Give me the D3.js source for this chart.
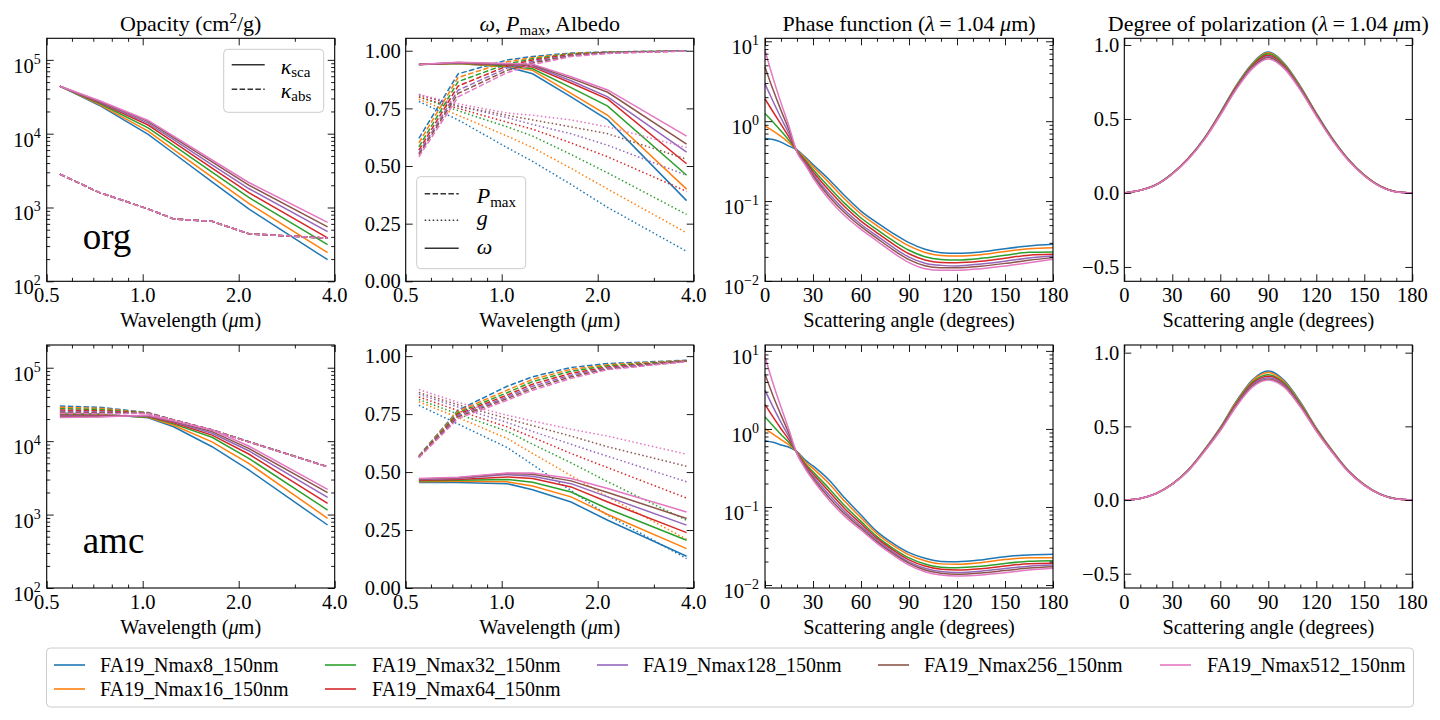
<!DOCTYPE html>
<html>
<head>
<meta charset="utf-8">
<script src="https://cdn.jsdelivr.net/npm/d3@7"></script>
<style>
  body { margin: 0; background: #fff; }
</style>
</head>
<body>
<svg id="chart"></svg>
<script>
const names = ["FA19_Nmax8_150nm", "FA19_Nmax16_150nm", "FA19_Nmax32_150nm", "FA19_Nmax64_150nm",
               "FA19_Nmax128_150nm", "FA19_Nmax256_150nm", "FA19_Nmax512_150nm"];
const colors = ["#1f77b4", "#ff7f0e", "#2ca02c", "#d62728", "#9467bd", "#8c564b", "#e377c2"];

const wavelengths = [0.55, 0.73, 1.04, 1.25, 1.65, 2.15, 3.8];
const phaseAngles = [0, 5, 10, 15, 20, 25, 30, 40, 50, 60, 70, 80, 90, 100, 110, 120, 135, 150, 165, 180];
const polAngles = [0, 10, 20, 30, 40, 50, 60, 70, 80, 90, 100, 110, 120, 130, 140, 150, 160, 170, 180];

// org: opacities (cm2/g)
const orgKsca = [
  [44000, 24300, 9800, 5430, 2230, 955, 196],
  [44000, 25000, 10800, 6100, 2580, 1135, 244],
  [44000, 25800, 12000, 6920, 3010, 1368, 313],
  [44000, 26500, 13100, 7680, 3420, 1590, 388],
  [44000, 27000, 13900, 8300, 3790, 1808, 472],
  [44000, 27600, 14700, 8870, 4140, 2010, 546],
  [44000, 28100, 15100, 9250, 4400, 2180, 630]
];
const orgKabs = [2830, 1600, 955, 700, 650, 440, 384];

const orgPmax = [
  [0.62, 0.90, 0.96, 0.975, 0.99, 0.995, 1.0],
  [0.60, 0.884, 0.952, 0.97, 0.988, 0.994, 1.0],
  [0.583, 0.866, 0.943, 0.965, 0.986, 0.993, 1.0],
  [0.569, 0.847, 0.934, 0.96, 0.983, 0.992, 0.999],
  [0.557, 0.829, 0.925, 0.953, 0.98, 0.991, 0.999],
  [0.55, 0.815, 0.915, 0.947, 0.978, 0.99, 0.999],
  [0.54, 0.80, 0.905, 0.94, 0.975, 0.988, 0.999]
];
const orgG = [
  [0.78, 0.70, 0.58, 0.52, 0.42, 0.32, 0.13],
  [0.79, 0.72, 0.63, 0.58, 0.49, 0.40, 0.21],
  [0.80, 0.74, 0.67, 0.63, 0.55, 0.47, 0.29],
  [0.80, 0.75, 0.69, 0.66, 0.60, 0.54, 0.39],
  [0.81, 0.76, 0.71, 0.68, 0.64, 0.59, 0.46],
  [0.81, 0.76, 0.72, 0.70, 0.67, 0.64, 0.53],
  [0.81, 0.77, 0.73, 0.72, 0.70, 0.67, 0.58]
];
const orgW = [
  [0.94, 0.945, 0.93, 0.90, 0.80, 0.70, 0.35],
  [0.94, 0.945, 0.932, 0.915, 0.815, 0.72, 0.40],
  [0.94, 0.946, 0.935, 0.922, 0.84, 0.76, 0.46],
  [0.94, 0.947, 0.938, 0.93, 0.86, 0.79, 0.51],
  [0.94, 0.948, 0.94, 0.935, 0.87, 0.80, 0.56],
  [0.94, 0.949, 0.942, 0.938, 0.88, 0.82, 0.595],
  [0.94, 0.95, 0.945, 0.942, 0.887, 0.83, 0.63]
];

// org: log10 of phase function at 1.04 um
const orgPhaseLog = [
  [-0.217, -0.229, -0.2625, -0.3125, -0.36, -0.446, -0.542, -0.729, -0.9375, -1.125, -1.271, -1.404, -1.521, -1.604, -1.646, -1.654, -1.6375, -1.596, -1.5625, -1.542],
  [-0.0625, -0.12, -0.19, -0.27, -0.365, -0.461, -0.569, -0.769, -0.9775, -1.162, -1.308, -1.443, -1.561, -1.643, -1.681, -1.6875, -1.671, -1.631, -1.596, -1.583],
  [0.096, -0.009, -0.122, -0.24, -0.37, -0.4825, -0.605, -0.824, -1.0325, -1.212, -1.358, -1.496, -1.616, -1.696, -1.73, -1.7375, -1.717, -1.678, -1.642, -1.6375],
  [0.279, 0.118, -0.041, -0.2, -0.375, -0.499, -0.633, -0.866, -1.075, -1.251, -1.397, -1.537, -1.659, -1.737, -1.768, -1.771, -1.752, -1.715, -1.677, -1.667],
  [0.467, 0.249, 0.04, -0.157, -0.38, -0.515, -0.662, -0.909, -1.1175, -1.29, -1.436, -1.578, -1.701, -1.778, -1.805, -1.8125, -1.787, -1.752, -1.712, -1.687],
  [0.679, 0.396, 0.135, -0.11, -0.385, -0.528, -0.683, -0.9415, -1.15, -1.32, -1.466, -1.61, -1.734, -1.81, -1.834, -1.835, -1.815, -1.78, -1.74, -1.708],
  [0.8875, 0.542, 0.229, -0.0625, -0.39, -0.542, -0.708, -0.979, -1.1875, -1.354, -1.5, -1.646, -1.771, -1.846, -1.867, -1.867, -1.846, -1.8125, -1.771, -1.729]
];
const orgPol = [
  [0, 0.018, 0.057, 0.132, 0.235, 0.37, 0.543, 0.727, 0.875, 0.952, 0.875, 0.722, 0.54, 0.37, 0.228, 0.121, 0.046, 0.008, 0],
  [0, 0.018, 0.057, 0.131, 0.234, 0.369, 0.54, 0.723, 0.87, 0.947, 0.87, 0.718, 0.537, 0.368, 0.227, 0.12, 0.046, 0.008, 0],
  [0, 0.018, 0.056, 0.131, 0.233, 0.367, 0.537, 0.719, 0.865, 0.94, 0.864, 0.713, 0.534, 0.366, 0.226, 0.12, 0.045, 0.008, 0],
  [0, 0.018, 0.056, 0.130, 0.232, 0.365, 0.534, 0.714, 0.858, 0.93, 0.857, 0.708, 0.531, 0.364, 0.225, 0.119, 0.045, 0.008, 0],
  [0, 0.018, 0.056, 0.129, 0.231, 0.363, 0.531, 0.71, 0.852, 0.922, 0.851, 0.704, 0.528, 0.362, 0.224, 0.118, 0.044, 0.007, 0],
  [0, 0.018, 0.055, 0.129, 0.23, 0.362, 0.528, 0.706, 0.847, 0.915, 0.846, 0.70, 0.525, 0.36, 0.222, 0.117, 0.044, 0.007, 0],
  [0, 0.018, 0.055, 0.128, 0.228, 0.36, 0.525, 0.70, 0.84, 0.905, 0.84, 0.695, 0.52, 0.356, 0.22, 0.116, 0.043, 0.007, 0]
];

// amc
const amcKsca = [
  [24000, 23500, 20800, 15700, 8400, 4050, 721],
  [23500, 23100, 21100, 16500, 9800, 4990, 889],
  [23000, 22700, 21400, 17200, 11300, 5840, 1153],
  [22500, 22300, 21700, 17800, 12100, 6680, 1422],
  [22000, 21900, 22000, 18300, 12800, 7410, 1718],
  [21500, 21600, 22300, 18700, 13500, 7980, 1985],
  [21000, 21300, 22600, 19000, 14200, 8590, 2209]
];
const amcKabs = [
  [30100, 29000, 24500, 19500, 14300, 9850, 4500],
  [28900, 28000, 24300, 19450, 14250, 9830, 4490],
  [27700, 27000, 24200, 19400, 14200, 9810, 4480],
  [26500, 26000, 24100, 19400, 14200, 9800, 4480],
  [25500, 25000, 24000, 19350, 14180, 9790, 4470],
  [24700, 24300, 23900, 19300, 14150, 9780, 4470],
  [23900, 23600, 23800, 19300, 14100, 9770, 4460]
];
const amcPmax = [
  [0.57, 0.767, 0.87, 0.911, 0.951, 0.968, 0.982],
  [0.568, 0.762, 0.853, 0.90, 0.943, 0.963, 0.981],
  [0.566, 0.756, 0.842, 0.89, 0.935, 0.958, 0.98],
  [0.565, 0.75, 0.832, 0.879, 0.926, 0.953, 0.979],
  [0.564, 0.744, 0.824, 0.87, 0.918, 0.949, 0.978],
  [0.563, 0.738, 0.817, 0.861, 0.911, 0.945, 0.977],
  [0.562, 0.731, 0.81, 0.853, 0.904, 0.942, 0.976]
];
const amcG = [
  [0.788, 0.707, 0.606, 0.532, 0.42, 0.314, 0.127],
  [0.803, 0.735, 0.645, 0.58, 0.485, 0.393, 0.21],
  [0.813, 0.75, 0.676, 0.62, 0.54, 0.458, 0.292],
  [0.824, 0.765, 0.695, 0.65, 0.58, 0.519, 0.388],
  [0.835, 0.78, 0.714, 0.675, 0.62, 0.568, 0.458],
  [0.843, 0.79, 0.731, 0.70, 0.655, 0.609, 0.525],
  [0.856, 0.80, 0.745, 0.72, 0.685, 0.655, 0.577]
];
const amcW = [
  [0.455, 0.455, 0.45, 0.424, 0.371, 0.292, 0.137],
  [0.458, 0.46, 0.458, 0.44, 0.393, 0.317, 0.17],
  [0.462, 0.465, 0.468, 0.456, 0.414, 0.342, 0.206],
  [0.465, 0.468, 0.479, 0.472, 0.436, 0.371, 0.239],
  [0.468, 0.472, 0.489, 0.482, 0.45, 0.393, 0.271],
  [0.47, 0.475, 0.494, 0.491, 0.462, 0.412, 0.30],
  [0.472, 0.478, 0.496, 0.496, 0.472, 0.429, 0.328]
];
const amcPhaseLog = [
  [-0.15, -0.171, -0.205, -0.235, -0.291, -0.397, -0.474, -0.654, -0.889, -1.103, -1.316, -1.466, -1.585, -1.658, -1.697, -1.701, -1.679, -1.637, -1.615, -1.607],
  [0.001, -0.065, -0.137, -0.204, -0.296, -0.416, -0.506, -0.7, -0.931, -1.138, -1.343, -1.493, -1.614, -1.689, -1.729, -1.735, -1.714, -1.674, -1.65, -1.65],
  [0.152, 0.041, -0.07, -0.173, -0.3, -0.442, -0.55, -0.762, -0.988, -1.184, -1.379, -1.529, -1.652, -1.73, -1.771, -1.778, -1.76, -1.723, -1.696, -1.688],
  [0.313, 0.154, 0.003, -0.14, -0.305, -0.459, -0.578, -0.802, -1.025, -1.214, -1.403, -1.552, -1.677, -1.757, -1.799, -1.808, -1.791, -1.756, -1.727, -1.722],
  [0.496, 0.283, 0.085, -0.102, -0.31, -0.476, -0.607, -0.843, -1.063, -1.245, -1.427, -1.576, -1.703, -1.785, -1.827, -1.838, -1.822, -1.789, -1.758, -1.744],
  [0.701, 0.426, 0.177, -0.06, -0.316, -0.49, -0.631, -0.877, -1.093, -1.27, -1.447, -1.596, -1.723, -1.807, -1.849, -1.863, -1.847, -1.815, -1.783, -1.765],
  [0.927, 0.585, 0.278, -0.013, -0.32, -0.504, -0.654, -0.91, -1.124, -1.295, -1.466, -1.615, -1.744, -1.829, -1.872, -1.885, -1.872, -1.842, -1.808, -1.786]
];
const amcPol = [
  [0, 0.011, 0.045, 0.109, 0.205, 0.34, 0.492, 0.67, 0.815, 0.876, 0.81, 0.665, 0.49, 0.336, 0.2, 0.105, 0.04, 0.008, 0],
  [0, 0.011, 0.045, 0.109, 0.204, 0.338, 0.489, 0.665, 0.808, 0.865, 0.803, 0.659, 0.486, 0.333, 0.199, 0.104, 0.04, 0.008, 0],
  [0, 0.011, 0.045, 0.108, 0.203, 0.336, 0.485, 0.658, 0.798, 0.85, 0.793, 0.652, 0.481, 0.33, 0.197, 0.103, 0.039, 0.008, 0],
  [0, 0.011, 0.045, 0.108, 0.202, 0.334, 0.481, 0.652, 0.79, 0.84, 0.786, 0.646, 0.477, 0.328, 0.196, 0.102, 0.039, 0.007, 0],
  [0, 0.011, 0.044, 0.107, 0.201, 0.332, 0.477, 0.646, 0.782, 0.83, 0.778, 0.641, 0.473, 0.326, 0.194, 0.101, 0.039, 0.007, 0],
  [0, 0.011, 0.044, 0.107, 0.2, 0.33, 0.474, 0.64, 0.774, 0.82, 0.77, 0.636, 0.47, 0.324, 0.193, 0.1, 0.038, 0.007, 0],
  [0, 0.011, 0.044, 0.106, 0.198, 0.328, 0.47, 0.635, 0.765, 0.814, 0.765, 0.632, 0.468, 0.322, 0.192, 0.1, 0.038, 0.007, 0]
];

const width = 1440, height = 720;
const colX = [46.7, 405.7, 765, 1124.3];
const rowY = [38.3, 345];
const pw = 288, ph = 243;
const DASH = "5.5,2.4", DOT = "1.5,2.5";
const SERIF = '"Liberation Serif"';

const svg = d3.select("#chart").attr("width", width).attr("height", height);
svg.append("rect").attr("width", width).attr("height", height).attr("fill", "white");

const xWl = d3.scaleLog().domain([0.5, 4]).range([0, pw]);
const xAng = d3.scaleLinear().domain([0, 180]).range([0, pw]);

function logMinors(lo, hi) {
  const out = [];
  for (let e = Math.floor(Math.log10(lo)); e <= Math.ceil(Math.log10(hi)); e++) {
    for (let k = 2; k <= 9; k++) {
      const v = k * Math.pow(10, e);
      if (v >= lo && v <= hi) out.push(v);
    }
  }
  return out;
}

function ticks(g, x, y, xMajor, xMinor, yMajor, yMinor) {
  const ax = (fn, s, vals, size) => fn(s).tickValues(vals).tickSize(-size).tickSizeOuter(0).tickFormat("");
  g.append("g").attr("transform", `translate(0,${ph})`).call(ax(d3.axisBottom, x, xMajor, 7));
  g.append("g").attr("transform", `translate(0,${ph})`).call(ax(d3.axisBottom, x, xMinor, 3.5));
  g.append("g").call(ax(d3.axisTop, x, xMajor, 7));
  g.append("g").call(ax(d3.axisTop, x, xMinor, 3.5));
  g.append("g").call(ax(d3.axisLeft, y, yMajor, 7));
  g.append("g").call(ax(d3.axisLeft, y, yMinor, 3.5));
  g.append("g").attr("transform", `translate(${pw},0)`).call(ax(d3.axisRight, y, yMajor, 7));
  g.append("g").attr("transform", `translate(${pw},0)`).call(ax(d3.axisRight, y, yMinor, 3.5));
  g.selectAll(".domain").remove();
  g.selectAll(".tick line").attr("stroke-width", 0.9);
  g.append("rect").attr("width", pw).attr("height", ph)
    .attr("fill", "none").attr("stroke", "black").attr("stroke-width", 1.1);
}

// every text goes through here so the serif face is set inline
function label(g) {
  return g.append("text").style("font-family", SERIF).attr("fill", "black");
}

function xLabels(g, x, vals, fmt) {
  vals.forEach(v => {
    label(g).attr("x", x(v)).attr("y", ph + 21)
      .attr("text-anchor", "middle").style("font-size", "20.5px").text(fmt(v));
  });
}

function yLabels(g, y, vals, fmt) {
  vals.forEach(v => {
    label(g).attr("x", -5).attr("y", y(v)).attr("dy", "0.35em")
      .attr("text-anchor", "end").style("font-size", "20.5px").text(fmt(v));
  });
}

function yLogLabels(g, y, exps) {
  exps.forEach(e => {
    const t = label(g).attr("x", -6).attr("y", y(Math.pow(10, e)) + 13)
      .attr("text-anchor", "end").style("font-size", "20.5px");
    t.append("tspan").text("10");
    t.append("tspan").attr("dy", -9).style("font-size", "14px").text(e < 0 ? "\u2212" + (-e) : String(e));
  });
}

function xTitle(g, kind) {
  const t = label(g).attr("x", pw / 2).attr("y", ph + 46)
    .attr("text-anchor", "middle").style("font-size", "20.3px");
  if (kind === "wl") {
    t.append("tspan").text("Wavelength (");
    t.append("tspan").style("font-style", "italic").text("\u03bc");
    t.append("tspan").text("m)");
  } else {
    t.text("Scattering angle (degrees)");
  }
}

function drawLine(g, x, y, xs, ys, color, dash, curve) {
  const line = d3.line().x((d, i) => x(xs[i])).y(d => y(d));
  if (curve) line.curve(curve);
  g.append("path").datum(ys).attr("d", line)
    .attr("fill", "none").attr("stroke", color).attr("stroke-width", 1.5)
    .attr("stroke-dasharray", dash || null);
}

const panels = [
  { name: "org", ksca: orgKsca, kabs: names.map(() => orgKabs), pmax: orgPmax, g: orgG, w: orgW,
    phase: orgPhaseLog, pol: orgPol,
    kDomain: [100, 1.96e5], aDomain: [0, 1.054], pDomain: [0.0099, 10.9], polDomain: [-0.597, 1.045] },
  { name: "amc", ksca: amcKsca, kabs: amcKabs, pmax: amcPmax, g: amcG, w: amcW,
    phase: amcPhaseLog, pol: amcPol,
    kDomain: [100, 2.04e5], aDomain: [0, 1.048], pDomain: [0.00916, 11.9], polDomain: [-0.597, 1.052] }
];

const wlMajor = [0.5, 1, 2, 4], wlMinor = [0.6, 0.7, 0.8, 0.9, 3];
const angMajor = d3.range(0, 181, 30), angMinor = d3.range(0, 181, 10).filter(d => d % 30 !== 0);
const wlFmt = d => d.toFixed(1);

panels.forEach((p, row) => {
  const top = rowY[row];

  // opacity
  const g1 = svg.append("g").attr("transform", `translate(${colX[0]},${top})`);
  const y1 = d3.scaleLog().domain(p.kDomain).range([ph, 0]);
  names.forEach((n, i) => {
    drawLine(g1, xWl, y1, wavelengths, p.ksca[i], colors[i], null);
    drawLine(g1, xWl, y1, wavelengths, p.kabs[i], colors[i], DASH);
  });
  ticks(g1, xWl, y1, wlMajor, wlMinor, [1e2, 1e3, 1e4, 1e5], logMinors(p.kDomain[0], p.kDomain[1]));
  xLabels(g1, xWl, wlMajor, wlFmt);
  yLogLabels(g1, y1, [2, 3, 4, 5]);
  xTitle(g1, "wl");
  label(g1).attr("x", 36).attr("y", row === 0 ? 211 : 208)
    .style("font-size", "37px").text(p.name);

  // albedo, g, Pmax
  const g2 = svg.append("g").attr("transform", `translate(${colX[1]},${top})`);
  const y2 = d3.scaleLinear().domain(p.aDomain).range([ph, 0]);
  names.forEach((n, i) => {
    drawLine(g2, xWl, y2, wavelengths, p.pmax[i], colors[i], DASH);
    drawLine(g2, xWl, y2, wavelengths, p.g[i], colors[i], DOT);
    drawLine(g2, xWl, y2, wavelengths, p.w[i], colors[i], null);
  });
  ticks(g2, xWl, y2, wlMajor, wlMinor, [0, 0.25, 0.5, 0.75, 1], []);
  xLabels(g2, xWl, wlMajor, wlFmt);
  yLabels(g2, y2, [0, 0.25, 0.5, 0.75, 1], d => d.toFixed(2));
  xTitle(g2, "wl");

  // phase function
  const g3 = svg.append("g").attr("transform", `translate(${colX[2]},${top})`);
  const y3 = d3.scaleLog().domain(p.pDomain).range([ph, 0]);
  names.forEach((n, i) => {
    drawLine(g3, xAng, y3, phaseAngles, p.phase[i].map(v => Math.pow(10, v)), colors[i], null, d3.curveMonotoneX);
  });
  ticks(g3, xAng, y3, angMajor, angMinor, [1e-2, 1e-1, 1, 10], logMinors(p.pDomain[0], p.pDomain[1]));
  xLabels(g3, xAng, angMajor, d => d);
  yLogLabels(g3, y3, [-2, -1, 0, 1]);
  xTitle(g3, "ang");

  // degree of polarization
  const g4 = svg.append("g").attr("transform", `translate(${colX[3]},${top})`);
  const y4 = d3.scaleLinear().domain(p.polDomain).range([ph, 0]);
  names.forEach((n, i) => {
    drawLine(g4, xAng, y4, polAngles, p.pol[i], colors[i], null, d3.curveMonotoneX);
  });
  ticks(g4, xAng, y4, angMajor, angMinor, [-0.5, 0, 0.5, 1], []);
  xLabels(g4, xAng, angMajor, d => d);
  yLabels(g4, y4, [-0.5, 0, 0.5, 1], d => (d < 0 ? "\u2212" : "") + Math.abs(d).toFixed(1));
  xTitle(g4, "ang");

  if (row === 0) {
    // titles
    const t1 = label(g1).attr("x", pw / 2).attr("y", -7).attr("text-anchor", "middle").style("font-size", "22px");
    t1.append("tspan").text("Opacity (cm");
    t1.append("tspan").attr("dy", -8).style("font-size", "15px").text("2");
    t1.append("tspan").attr("dy", 8).text("/g)");

    const t2 = label(g2).attr("x", pw / 2).attr("y", -7).attr("text-anchor", "middle").style("font-size", "22px");
    t2.append("tspan").style("font-style", "italic").text("\u03c9");
    t2.append("tspan").text(", ");
    t2.append("tspan").style("font-style", "italic").text("P");
    t2.append("tspan").attr("dy", 4).style("font-size", "15px").text("max");
    t2.append("tspan").attr("dy", -4).text(", Albedo");

    [g3, g4].forEach((gg, k) => {
      const t = label(gg).attr("x", pw / 2).attr("y", -7).attr("text-anchor", "middle").style("font-size", "22px");
      t.append("tspan").text(k === 0 ? "Phase function (" : "Degree of polarization (");
      t.append("tspan").style("font-style", "italic").text("\u03bb");
      t.append("tspan").text("\u2009=\u20091.04 ");
      t.append("tspan").style("font-style", "italic").text("\u03bc");
      t.append("tspan").text("m)");
    });

    // legend: kappa
    const l1 = g1.append("g").attr("transform", "translate(177,11)");
    l1.append("rect").attr("width", 100).attr("height", 63).attr("rx", 4)
      .attr("fill", "white").attr("fill-opacity", 0.8).attr("stroke", "#cccccc");
    [["sca", null, 15.5], ["abs", DASH, 40]].forEach(([sub, dash, ly]) => {
      l1.append("line").attr("x1", 8).attr("x2", 41).attr("y1", ly).attr("y2", ly)
        .attr("stroke", "#333").attr("stroke-width", 1.5).attr("stroke-dasharray", dash);
      const t = label(l1).attr("x", 57).attr("y", ly + 9).style("font-size", "22px");
      t.append("tspan").style("font-style", "italic").text("\u03ba");
      t.append("tspan").attr("dy", 3).style("font-size", "15px").text(sub);
    });

    // legend: Pmax, g, omega
    const l2 = g2.append("g").attr("transform", "translate(11,138.4)");
    l2.append("rect").attr("width", 109).attr("height", 92).attr("rx", 4)
      .attr("fill", "white").attr("fill-opacity", 0.8).attr("stroke", "#cccccc");
    [[DASH, 17], [DOT, 43.5], [null, 71.5]].forEach(([dash, ly], k) => {
      l2.append("line").attr("x1", 8).attr("x2", 42).attr("y1", ly).attr("y2", ly)
        .attr("stroke", "#333").attr("stroke-width", 1.5).attr("stroke-dasharray", dash);
      const t = label(l2).attr("x", 60).style("font-size", "22px");
      if (k === 0) {
        t.attr("y", ly + 9);
        t.append("tspan").style("font-style", "italic").text("P");
        t.append("tspan").attr("dy", 4).style("font-size", "15px").text("max");
      } else if (k === 1) {
        t.attr("y", ly + 5).style("font-style", "italic").text("g");
      } else {
        t.attr("y", ly + 6).style("font-style", "italic").text("\u03c9");
      }
    });
  }
});

// bottom legend
const leg = svg.append("g");
leg.append("rect").attr("x", 46.5).attr("y", 648).attr("width", 1367).attr("height", 59).attr("rx", 4)
  .attr("fill", "white").attr("stroke", "#cccccc");
const legCols = [[54, 100], [325, 372], [597, 643], [878, 924], [1160, 1207]];
const legSlots = [[0, 0], [0, 1], [1, 0], [1, 1], [2, 0], [3, 0], [4, 0]];
names.forEach((n, i) => {
  const [c, r] = legSlots[i];
  const ly = 665 + r * 24;
  leg.append("line").attr("x1", legCols[c][0]).attr("x2", legCols[c][0] + 31)
    .attr("y1", ly).attr("y2", ly).attr("stroke", colors[i]).attr("stroke-width", 2).attr("stroke-opacity", 0.8);
  label(leg).attr("x", legCols[c][1]).attr("y", ly).attr("dy", "0.35em")
    .style("font-size", "20px").text(n);
});
</script>
</body>
</html>
